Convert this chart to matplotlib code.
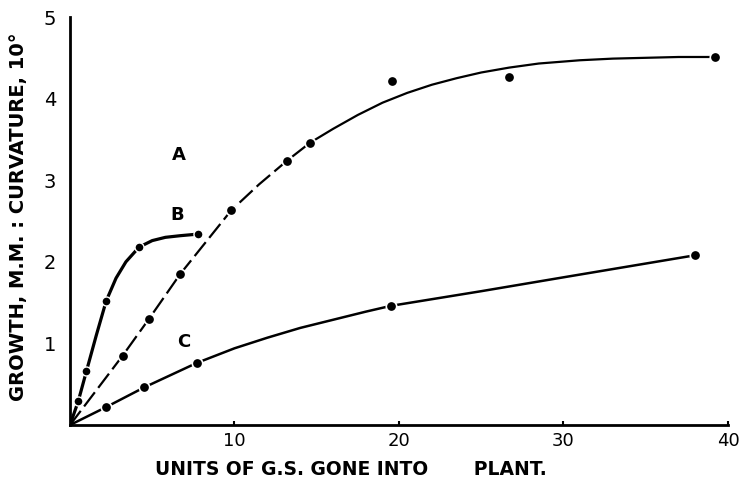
import matplotlib
matplotlib.use("Agg")
import matplotlib.pyplot as plt

# ---- data ----
# measured points (dots)
a_x = [3.2, 4.8, 6.7, 9.8, 13.2, 14.6, 19.6, 26.7, 39.2]
a_y = [0.85, 1.30, 1.85, 2.63, 3.24, 3.46, 4.22, 4.27, 4.51]
b_x = [0.5, 1.0, 2.2, 4.2, 7.8]
b_y = [0.29, 0.66, 1.52, 2.18, 2.34]
c_x = [2.2, 4.5, 7.7, 19.5, 38.0]
c_y = [0.22, 0.46, 0.76, 1.46, 2.08]

# hand-drawn fitted curves (positions)
curve_a_dashed_x = [0, 3.2, 4.8, 6.7, 9.8, 11.5, 13.2, 14.6]
curve_a_dashed_y = [0, 0.85, 1.30, 1.85, 2.63, 2.95, 3.24, 3.46]
curve_a_solid_x = [14.6, 16, 17.5, 19, 20.5, 22, 23.5, 25, 26.7, 28.5, 31, 33, 35, 37, 39.2]
curve_a_solid_y = [3.46, 3.63, 3.80, 3.95, 4.07, 4.17, 4.25, 4.32, 4.38, 4.43, 4.47, 4.49, 4.50, 4.51, 4.51]
curve_b_x = [0, 0.5, 1.0, 1.6, 2.2, 2.8, 3.4, 4.2, 5.0, 5.8, 6.7, 7.8]
curve_b_y = [0, 0.29, 0.66, 1.10, 1.52, 1.80, 2.00, 2.18, 2.26, 2.30, 2.32, 2.34]
curve_c_x = [0, 2.2, 4.5, 7.7, 10, 12, 14, 16, 18, 19.5, 25, 30, 38.0]
curve_c_y = [0, 0.22, 0.46, 0.76, 0.94, 1.07, 1.19, 1.29, 1.39, 1.46, 1.64, 1.81, 2.08]

x_ticks = [10, 20, 30, 40]
y_ticks = [1, 2, 3, 4, 5]
curve_labels = ["A", "B", "C"]
label_x = [6.6, 6.5, 6.9]
label_y = [3.31, 2.57, 1.02]

fig = plt.figure(figsize=(7.55, 4.79), dpi=100)
ax = fig.add_axes([0.0927, 0.1127, 0.8715, 0.8518])

ink = "black"
# curve A
ax.plot(curve_a_dashed_x, curve_a_dashed_y, color=ink, lw=1.6,
        linestyle=(0, (8, 2.5)), solid_capstyle="butt")
ax.plot(curve_a_solid_x, curve_a_solid_y, color=ink, lw=1.6)
# curve B
ax.plot(curve_b_x, curve_b_y, color=ink, lw=2.3, solid_joinstyle="round")
# curve C
ax.plot(curve_c_x, curve_c_y, color=ink, lw=1.8)

# points
ax.plot(a_x, a_y, "o", color=ink, ms=7.5, mec="white", mew=1.2, zorder=5)
ax.plot(b_x, b_y, "o", color=ink, ms=6.5, mec="white", mew=1.0, zorder=5)
ax.plot(c_x, c_y, "o", color=ink, ms=7.5, mec="white", mew=1.2, zorder=5)

for t, x, y in zip(curve_labels, label_x, label_y):
    ax.text(x, y, t, fontsize=13, fontweight="bold", ha="center", va="center")

ax.set_xlim(0, 40)
ax.set_ylim(0, 5)
ax.set_xticks(x_ticks)
ax.set_yticks(y_ticks)
ax.set_xticklabels([str(v) for v in x_ticks], fontsize=13)
ax.set_yticklabels([str(v) for v in y_ticks], fontsize=14)
ax.tick_params(axis="x", direction="in", length=3, width=1.5, pad=5)
ax.tick_params(axis="y", length=0, pad=10)

for s in ["top", "right"]:
    ax.spines[s].set_visible(False)
for s in ["left", "bottom"]:
    ax.spines[s].set_linewidth(2.0)

ax.set_xlabel("UNITS OF G.S. GONE INTO       PLANT.", fontsize=13.5,
              fontweight="bold", labelpad=2)
ax.set_ylabel("GROWTH, M.M. : CURVATURE, 10°", fontsize=14,
              fontweight="semibold", labelpad=10)
ax.xaxis.set_label_coords(0.427, -0.085)
ax.yaxis.set_label_coords(-0.064, 0.51)

fig.savefig("out.png", dpi=100)
